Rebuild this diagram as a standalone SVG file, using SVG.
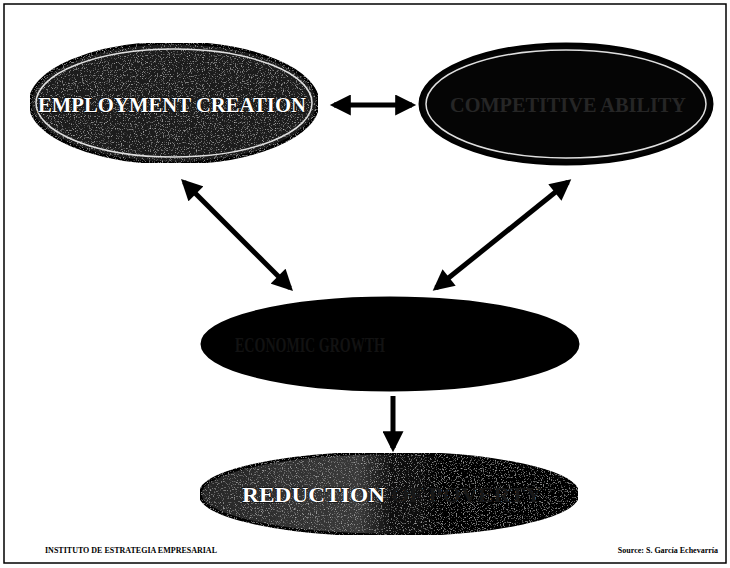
<svg xmlns="http://www.w3.org/2000/svg" width="730" height="568" viewBox="0 0 730 568">
  <defs>
    <style>
      .node { stroke: #000; stroke-width: 3; }
      .ring { fill: none; stroke: #e0e0e0; stroke-width: 1.5; }
      .label { font-family: "Liberation Serif", "Times New Roman", serif; font-weight: bold; font-size: 22px; text-anchor: middle; }
      .lite { fill: #fff; stroke: #000; stroke-width: 1; paint-order: stroke; }
      .faint { fill: #262626; }
      .conn { stroke: #000; stroke-width: 5; fill: none; }
      .foot { font-family: "Liberation Serif", "Times New Roman", serif; font-weight: bold; font-size: 8px; fill: #000; }
    </style>
    <marker id="ah" viewBox="0 0 10 10" refX="8" refY="5" markerWidth="4.4" markerHeight="4.2" orient="auto-start-reverse" markerUnits="strokeWidth">
      <path d="M0,0 L10,5 L0,10 Z" fill="#000"/>
    </marker>
    <filter id="grain" x="0" y="0" width="100%" height="100%">
      <feTurbulence type="fractalNoise" baseFrequency="0.85" numOctaves="2" seed="3" result="n"/>
      <feColorMatrix in="n" type="matrix" values="0 0 0 0 0.85  0 0 0 0 0.85  0 0 0 0 0.85  0 0 0 1.6 -0.92" result="w"/>
      <feComposite in="w" in2="SourceGraphic" operator="in" result="wm"/>
      <feMerge><feMergeNode in="SourceGraphic"/><feMergeNode in="wm"/></feMerge>
    </filter>
    <linearGradient id="g4" x1="0" y1="0" x2="1" y2="0">
      <stop offset="0" stop-color="#262626"/>
      <stop offset="0.42" stop-color="#3a3a3a"/>
      <stop offset="0.52" stop-color="#080808"/>
      <stop offset="1" stop-color="#000"/>
    </linearGradient>
  </defs>

  <rect x="4" y="4" width="722" height="559" fill="#fff" stroke="#000" stroke-width="1.5"/>

  <g id="connectors">
    <line class="conn" x1="334" y1="105" x2="412" y2="105" marker-start="url(#ah)" marker-end="url(#ah)"/>
    <line class="conn" x1="184" y1="182" x2="290" y2="288" marker-start="url(#ah)" marker-end="url(#ah)"/>
    <line class="conn" x1="568" y1="182" x2="436" y2="288" marker-start="url(#ah)" marker-end="url(#ah)"/>
    <line class="conn" x1="393" y1="396" x2="393" y2="448" marker-end="url(#ah)"/>
  </g>

  <g id="employment-creation">
    <ellipse class="node" cx="174" cy="103" rx="144" ry="60" fill="#1a1a1a" filter="url(#grain)"/>
    <ellipse class="ring" cx="174" cy="103" rx="138" ry="54"/>
    <text class="label lite" x="172" y="112" textLength="268" lengthAdjust="spacingAndGlyphs">EMPLOYMENT CREATION</text>
  </g>

  <g id="competitiveness">
    <ellipse class="node" cx="566" cy="104" rx="146" ry="60" fill="#050505"/>
    <ellipse class="ring" cx="566" cy="104" rx="140" ry="54" stroke="#8a8a8a"/>
    <text class="label faint" x="568" y="112" textLength="236" lengthAdjust="spacingAndGlyphs">COMPETITIVE ABILITY</text>
  </g>

  <g id="economic-growth">
    <ellipse class="node" cx="390" cy="344" rx="188" ry="46" fill="#000"/>
    <text class="label" x="310" y="352" fill="#121212" textLength="150" lengthAdjust="spacingAndGlyphs">ECONOMIC GROWTH</text>
  </g>

  <g id="poverty-reduction">
    <ellipse class="node" cx="389" cy="494" rx="189" ry="41" fill="url(#g4)" filter="url(#grain)"/>
    <text class="label lite" x="392" y="502" textLength="300" lengthAdjust="spacingAndGlyphs">REDUCTION <tspan fill="#181818" stroke="none">OF POVERTY</tspan></text>
  </g>

  <text class="foot" x="45" y="553">INSTITUTO DE ESTRATEGIA EMPRESARIAL</text>
  <text class="foot" x="718" y="553" text-anchor="end">Source: S. García Echevarría</text>
</svg>
